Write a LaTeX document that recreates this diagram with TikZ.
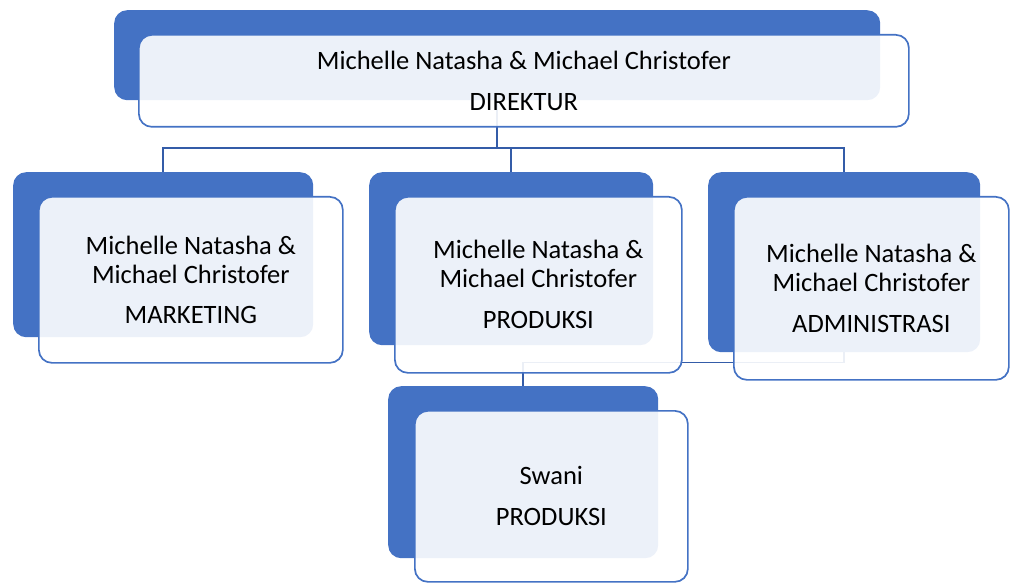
\documentclass[tikz,border=0pt]{standalone}
\usepackage{fontspec}
\setmainfont{Carlito}
\usetikzlibrary{positioning}
\definecolor{boxblue}{RGB}{68,114,196}
\definecolor{linkblue}{RGB}{52,92,168}

\begin{document}
\begin{tikzpicture}[x=1pt,y=-1pt]
  \tikzstyle{back}=[rectangle,rounded corners=13pt,fill=boxblue,anchor=north west,inner sep=0pt]
  \tikzstyle{front}=[rectangle,rounded corners=13pt,draw=boxblue,line width=1.7pt,
        fill=white,fill opacity=0.9,text opacity=1,anchor=north west,inner sep=0pt,
        align=center,font=\fontsize{26.5}{29}\selectfont]
  \tikzstyle{link}=[draw=linkblue,line width=1.8pt]
  \useasboundingbox (0,0) rectangle (1010,583);
    % coloured back boxes
    \node [back,minimum width=766pt,minimum height=90pt] (dirB) at (114,10) {};
    \node [back,minimum width=300pt,minimum height=165pt] (mktB) at (13,172) {};
    \node [back,minimum width=284pt,minimum height=173pt] (prdB) at (369,172) {};
    \node [back,minimum width=272pt,minimum height=180pt] (admB) at (708,172) {};
    \node [back,minimum width=270pt,minimum height=172pt] (swnB) at (388,386) {};

    % connectors
    \draw [link] (dirB.south) -- ++(0,48) -| (mktB.north);
    \draw [link] (dirB.south) -- ++(0,48) -| (prdB.north);
    \draw [link] (dirB.south) -- ++(0,48) -| (admB.north);
    \draw [link] (admB.south) -- ++(0,10) -| (swnB.north);

    % text boxes
    \node [front,minimum width=770pt,minimum height=92pt] (dirF) at (138,34)
        {Michelle Natasha \& Michael Christofer\\[12pt]DIREKTUR};
    \node [front,minimum width=304pt,minimum height=166pt] (mktF) at (38,196)
        {Michelle Natasha \&\\Michael Christofer\\[11pt]MARKETING};
    \node [front,minimum width=287pt,minimum height=176pt] (prdF) at (394,196)
        {Michelle Natasha \&\\Michael Christofer\\[12pt]PRODUKSI};
    \node [front,minimum width=275pt,minimum height=183pt] (admF) at (733,196)
        {Michelle Natasha \&\\Michael Christofer\\[12pt]ADMINISTRASI};
    \node [front,minimum width=273pt,minimum height=171pt] (swnF) at (414,410)
        {Swani\\[12pt]PRODUKSI};
\end{tikzpicture}
\end{document}
